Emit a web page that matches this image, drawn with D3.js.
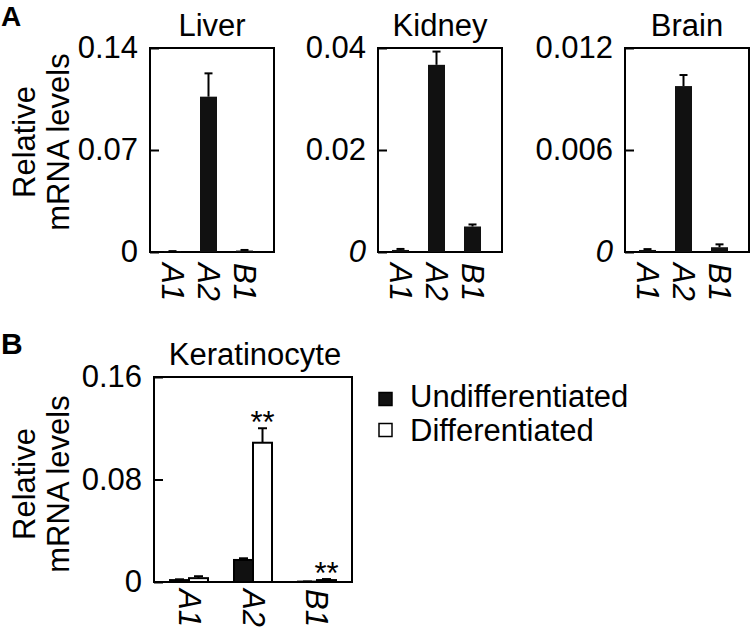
<!DOCTYPE html>
<html>
<head>
<meta charset="utf-8">
<script src="https://cdn.jsdelivr.net/npm/d3@7"></script>
<style>
  html, body { margin: 0; padding: 0; background: #fff; }
  svg { display: block; }
  text { font-family: "Liberation Sans", Arial, Helvetica, sans-serif; fill: #000; }
</style>
</head>
<body>
<svg id="chart" width="750" height="630"></svg>
<script>
// ---------- data ----------
const genes = ["A1", "A2", "B1"];

const tissues = ["Liver", "Kidney", "Brain"];
const liverMeans  = [0.0004, 0.1066, 0.0010];
const liverErr    = [0.0002, 0.0160, 0.0004];
const kidneyMeans = [0.0004, 0.0367, 0.0050];
const kidneyErr   = [0.0002, 0.0026, 0.0004];
const brainMeans  = [0.00012, 0.00976, 0.00028];
const brainErr    = [0.00005, 0.00065, 0.00017];

const liverTicks  = [0, 0.07, 0.14];
const kidneyTicks = [0, 0.02, 0.04];
const brainTicks  = [0, 0.006, 0.012];
const liverTickLabels  = ["0", "0.07", "0.14"];
const kidneyTickLabels = ["0", "0.02", "0.04"];
const brainTickLabels  = ["0", "0.006", "0.012"];

const cellTitle = "Keratinocyte";
const conditions = ["Undifferentiated", "Differentiated"];
const undiffMeans = [0.0015, 0.0172, 0.0003];
const undiffErr   = [0.0006, 0.0013, 0.0001];
const diffMeans   = [0.0030, 0.1087, 0.0015];
const diffErr     = [0.0015, 0.0113, 0.0008];
const diffStars   = ["", "**", "**"];
const keraTicks   = [0, 0.08, 0.16];
const keraTickLabels = ["0", "0.08", "0.16"];

const yLabelLines = ["Relative", "mRNA levels"];
const panelLetters = ["A", "B"];

// ---------- drawing ----------
const svg = d3.select("#chart");
const FS = 31;

function yAxisLabel(cy) {
  svg.append("text").attr("transform", `translate(35,${cy}) rotate(-90)`)
    .attr("text-anchor", "middle").attr("font-size", FS).text(yLabelLines[0]);
  svg.append("text").attr("transform", `translate(69,${cy}) rotate(-90)`)
    .attr("text-anchor", "middle").attr("font-size", FS).text(yLabelLines[1]);
}

function frameAndAxis(x0, x1, yTop, yBot, ticks, labels, italicZero) {
  const y = d3.scaleLinear().domain([ticks[0], ticks[ticks.length - 1]]).range([yBot, yTop]);
  const ax = d3.axisLeft(y).tickValues(ticks)
    .tickFormat((d, i) => labels[i]).tickSizeInner(-9).tickSizeOuter(0).tickPadding(12);
  const g = svg.append("g").attr("transform", `translate(${x0},0)`).call(ax);
  g.select(".domain").remove();
  g.selectAll(".tick line").attr("stroke", "#000").attr("stroke-width", 2);
  g.selectAll(".tick text").attr("font-size", FS)
    .attr("font-family", "'Liberation Sans', Arial, sans-serif")
    .attr("fill", "#000")
    .attr("font-style", (d, i) => (italicZero && i === 0) ? "italic" : "normal");
  svg.append("rect").attr("x", x0).attr("y", yTop).attr("width", x1 - x0).attr("height", yBot - yTop)
    .attr("fill", "none").attr("stroke", "#000").attr("stroke-width", 2);
  return y;
}

function errorBar(cx, y, v, e, cap) {
  svg.append("line").attr("x1", cx).attr("x2", cx).attr("y1", y(v)).attr("y2", y(v + e))
    .attr("stroke", "#000").attr("stroke-width", 2);
  svg.append("line").attr("x1", cx - cap / 2).attr("x2", cx + cap / 2).attr("y1", y(v + e)).attr("y2", y(v + e))
    .attr("stroke", "#000").attr("stroke-width", 2);
}

function geneLabels(cxFn, yStart) {
  genes.forEach(gname => {
    svg.append("text")
      .attr("transform", `translate(${cxFn(gname)},${yStart}) rotate(90)`)
      .attr("dominant-baseline", "central")
      .attr("font-size", FS).attr("font-style", "italic").text(gname);
  });
}

// Panel letters
svg.append("text").attr("x", 1).attr("y", 25.5).attr("font-size", 28).attr("font-weight", "bold").text(panelLetters[0]);
svg.append("text").attr("x", 1).attr("y", 354).attr("font-size", 30).attr("font-weight", "bold").text(panelLetters[1]);

// ---------- Panel A ----------
const aTop = 48, aBot = 252, aW = 124;
const aX0 = [150, 378, 625];
const aMeans = [liverMeans, kidneyMeans, brainMeans];
const aErrs = [liverErr, kidneyErr, brainErr];
const aTicks = [liverTicks, kidneyTicks, brainTicks];
const aLabels = [liverTickLabels, kidneyTickLabels, brainTickLabels];

yAxisLabel(142);

tissues.forEach((t, k) => {
  const x0 = aX0[k];
  const x = d3.scaleBand().domain(genes).range([x0, x0 + aW])
    .paddingInner(0.528).paddingOuter(0.486).align(0.4);
  const y = frameAndAxis(x0, x0 + aW, aTop, aBot, aTicks[k], aLabels[k], k > 0);
  svg.append("text").attr("x", x0 + aW / 2).attr("y", 36).attr("text-anchor", "middle")
    .attr("font-size", FS).text(t);
  genes.forEach((gname, i) => {
    const v = aMeans[k][i], e = aErrs[k][i];
    svg.append("rect").attr("x", x(gname)).attr("width", x.bandwidth())
      .attr("y", y(v)).attr("height", y(0) - y(v)).attr("fill", "#111");
    errorBar(x(gname) + x.bandwidth() / 2, y, v, e, 8);
  });
  geneLabels(g => x(g) + x.bandwidth() / 2, aBot + 11);
});

// ---------- Panel B ----------
const bTop = 377, bBot = 582, bX0 = 154, bX1 = 352;
yAxisLabel(484);
const xb = d3.scaleBand().domain(genes).range([bX0, bX1]).paddingInner(0.406).paddingOuter(0.25);
const xs = d3.scaleBand().domain(conditions).range([0, xb.bandwidth()]);
const yb = frameAndAxis(bX0, bX1, bTop, bBot, keraTicks, keraTickLabels, false);
svg.append("text").attr("x", (bX0 + bX1) / 2 + 2).attr("y", 365).attr("text-anchor", "middle")
  .attr("font-size", FS).text(cellTitle);

const bSeries = [
  { name: conditions[0], means: undiffMeans, errs: undiffErr, fill: "#111" },
  { name: conditions[1], means: diffMeans, errs: diffErr, fill: "#fff" }
];
bSeries.forEach(s => {
  genes.forEach((gname, i) => {
    const v = s.means[i], e = s.errs[i];
    const bx = xb(gname) + xs(s.name);
    svg.append("rect").attr("x", bx).attr("width", xs.bandwidth())
      .attr("y", yb(v)).attr("height", yb(0) - yb(v))
      .attr("fill", s.fill).attr("stroke", "#000").attr("stroke-width", 2);
    errorBar(bx + xs.bandwidth() / 2, yb, v, e, 9);
  });
});
// significance stars
genes.forEach((gname, i) => {
  if (!diffStars[i]) return;
  const cx = xb(gname) + xs(conditions[1]) + xs.bandwidth() / 2;
  svg.append("text").attr("x", cx).attr("y", yb(diffMeans[i] + diffErr[i]) + 5)
    .attr("text-anchor", "middle").attr("font-size", FS).text(diffStars[i]);
});
geneLabels(g => xb(g) + xb.bandwidth() / 2, bBot + 7);

// legend
const legY = [399, 430];
bSeries.forEach((s, i) => {
  svg.append("rect").attr("x", 379).attr("y", legY[i] - 6.5).attr("width", 13).attr("height", 13)
    .attr("fill", s.fill).attr("stroke", "#000").attr("stroke-width", 1.5);
  svg.append("text").attr("x", 410).attr("y", legY[i] + 8 + i * 3).attr("font-size", FS).text(s.name);
});
</script>
</body>
</html>
